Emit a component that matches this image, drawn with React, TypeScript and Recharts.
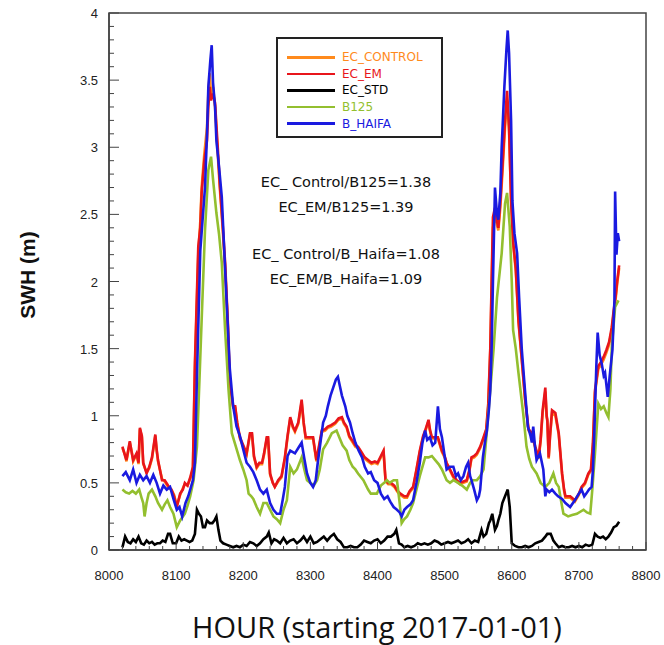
import React from "react";
import { LineChart, Line, XAxis, YAxis, ReferenceArea } from "recharts";

// ---- data: [hour, SWH (m)] ----
const bHaifa: [number, number][] = [
  [8020,0.55],[8025,0.58],[8031,0.52],[8036,0.6],[8041,0.5],[8046,0.56],[8051,0.52],[8056,0.55],[8061,0.5],[8066,0.56],
  [8071,0.5],[8076,0.42],[8081,0.48],[8086,0.45],[8091,0.47],[8096,0.38],[8101,0.3],[8105,0.32],[8109,0.25],[8114,0.35],
  [8118,0.4],[8121,0.45],[8125,0.52],[8128,0.65],[8131,1.29],[8136,2.23],[8140,2.5],[8143,2.7],[8146,3.1],[8148,3.45],
  [8151,3.65],[8153,3.76],[8155,3.48],[8158,3.3],[8160,3.05],[8164,2.85],[8168,2.63],[8172,2.2],[8175,1.88],[8180,1.35],
  [8185,1.07],[8190,0.92],[8195,0.85],[8200,0.75],[8205,0.65],[8210,0.62],[8215,0.58],[8220,0.52],[8225,0.45],[8230,0.42],
  [8235,0.45],[8240,0.35],[8245,0.3],[8250,0.27],[8255,0.27],[8259,0.38],[8262,0.47],[8266,0.7],[8270,0.74],[8277,0.72],
  [8282,0.76],[8287,0.8],[8291,0.68],[8295,0.57],[8300,0.5],[8304,0.47],[8308,0.52],[8311,0.65],[8315,0.8],[8319,0.95],
  [8323,1.0],[8326,1.07],[8330,1.15],[8334,1.21],[8338,1.27],[8341,1.29],[8344,1.22],[8347,1.15],[8352,1.07],[8355,1.0],
  [8359,0.95],[8363,0.87],[8367,0.8],[8372,0.74],[8377,0.69],[8381,0.62],[8386,0.57],[8390,0.58],[8395,0.52],[8400,0.5],
  [8405,0.42],[8410,0.38],[8415,0.4],[8419,0.36],[8424,0.32],[8429,0.3],[8433,0.28],[8436,0.25],[8440,0.3],[8444,0.32],
  [8449,0.34],[8453,0.37],[8458,0.5],[8463,0.65],[8467,0.8],[8471,0.89],[8474,0.82],[8478,0.84],[8482,0.78],[8486,0.8],
  [8490,1.07],[8493,0.9],[8496,0.84],[8500,0.7],[8503,0.6],[8508,0.62],[8513,0.62],[8517,0.55],[8520,0.57],[8524,0.52],
  [8528,0.55],[8532,0.62],[8535,0.65],[8538,0.55],[8540,0.52],[8544,0.45],[8548,0.37],[8551,0.4],[8553,0.45],[8557,0.69],
  [8560,0.8],[8563,0.89],[8566,1.05],[8568,1.19],[8570,1.5],[8572,2.0],[8575,2.7],[8578,2.5],[8580,2.46],[8583,2.66],
  [8585,3.0],[8589,3.45],[8592,3.72],[8594,3.87],[8596,3.7],[8599,3.2],[8601,2.6],[8604,2.36],[8608,2.21],[8611,1.88],
  [8615,1.49],[8620,1.17],[8624,0.92],[8628,0.85],[8630,0.8],[8632,0.92],[8635,0.75],[8637,0.67],[8642,0.72],[8647,0.6],
  [8650,0.4],[8652,0.45],[8656,0.43],[8660,0.45],[8665,0.42],[8669,0.4],[8675,0.38],[8680,0.35],[8687,0.32],[8694,0.37],
  [8700,0.42],[8704,0.45],[8708,0.4],[8711,0.42],[8715,0.45],[8719,0.47],[8721,0.6],[8723,0.87],[8726,1.37],[8728,1.62],
  [8731,1.45],[8734,1.39],[8737,1.3],[8739,1.32],[8743,1.14],[8746,1.3],[8750,1.49],[8753,1.86],[8754,2.67],[8756,2.2],
  [8758,2.36],[8760,2.3],
];

const ecEm: [number, number][] = [
  [8020,0.77],[8024,0.7],[8026,0.67],[8031,0.81],[8034,0.72],[8036,0.67],[8041,0.72],[8044,0.65],[8046,0.91],[8049,0.85],
  [8051,0.65],[8056,0.57],[8060,0.62],[8064,0.69],[8069,0.86],[8071,0.75],[8073,0.67],[8079,0.52],[8083,0.52],[8088,0.48],
  [8093,0.45],[8097,0.4],[8101,0.32],[8106,0.42],[8110,0.45],[8113,0.5],[8117,0.48],[8121,0.54],[8125,0.62],[8128,1.39],
  [8133,2.26],[8136,2.4],[8138,2.66],[8142,2.9],[8146,3.05],[8148,3.3],[8150,3.45],[8152,3.35],[8155,3.4],[8158,3.33],
  [8162,3.0],[8165,2.73],[8169,2.45],[8173,2.14],[8177,1.7],[8180,1.25],[8185,1.07],[8188,1.07],[8191,0.95],[8195,0.84],
  [8200,0.78],[8205,0.72],[8210,0.87],[8213,0.87],[8216,0.7],[8220,0.62],[8224,0.65],[8228,0.65],[8231,0.72],[8235,0.84],
  [8237,0.84],[8240,0.57],[8244,0.5],[8247,0.47],[8252,0.52],[8257,0.55],[8262,0.69],[8266,0.85],[8270,0.99],[8274,0.92],
  [8277,0.89],[8282,0.95],[8287,1.12],[8290,0.95],[8293,0.84],[8298,0.84],[8304,0.84],[8309,0.67],[8312,0.75],[8317,0.89],
  [8322,0.9],[8326,0.92],[8331,0.93],[8337,0.95],[8342,0.98],[8347,0.99],[8350,0.95],[8354,0.92],[8358,0.85],[8362,0.82],
  [8367,0.78],[8371,0.77],[8376,0.73],[8381,0.69],[8386,0.67],[8391,0.65],[8396,0.66],[8400,0.65],[8405,0.7],[8409,0.74],
  [8412,0.52],[8416,0.5],[8420,0.5],[8425,0.48],[8430,0.44],[8434,0.42],[8440,0.4],[8444,0.4],[8448,0.44],[8453,0.47],
  [8458,0.6],[8463,0.74],[8468,0.85],[8471,0.89],[8476,0.97],[8478,0.9],[8481,0.84],[8486,0.84],[8490,0.84],[8496,0.74],
  [8500,0.7],[8503,0.65],[8508,0.6],[8513,0.55],[8518,0.52],[8523,0.5],[8528,0.51],[8533,0.52],[8537,0.6],[8540,0.69],
  [8544,0.7],[8548,0.72],[8553,0.77],[8558,0.84],[8562,0.9],[8565,1.09],[8568,1.5],[8570,2.0],[8572,2.48],[8575,2.55],
  [8578,2.45],[8580,2.4],[8583,2.6],[8586,2.85],[8590,3.2],[8593,3.42],[8596,3.15],[8599,2.6],[8602,2.3],[8606,2.1],
  [8610,1.71],[8615,1.42],[8620,1.12],[8625,0.9],[8630,0.87],[8635,0.77],[8640,0.69],[8643,0.82],[8646,1.04],[8650,1.21],
  [8652,1.0],[8653,0.97],[8655,0.69],[8657,0.85],[8660,1.04],[8665,1.02],[8670,0.87],[8672,0.75],[8675,0.57],[8678,0.45],
  [8680,0.4],[8687,0.4],[8694,0.37],[8700,0.42],[8704,0.47],[8709,0.5],[8714,0.57],[8718,0.6],[8721,0.8],[8724,1.19],
  [8729,1.37],[8733,1.4],[8737,1.44],[8741,1.49],[8745,1.55],[8749,1.66],[8752,1.79],[8755,1.9],[8757,2.0],[8760,2.12],
];

const ecControl: [number, number][] = [
  [8020,0.76],[8024,0.71],[8026,0.66],[8031,0.8],[8034,0.73],[8036,0.66],[8041,0.71],[8044,0.64],[8046,0.9],[8049,0.84],
  [8051,0.64],[8056,0.58],[8060,0.61],[8064,0.68],[8069,0.85],[8071,0.74],[8073,0.66],[8079,0.53],[8083,0.51],[8088,0.47],
  [8093,0.45],[8097,0.41],[8101,0.33],[8106,0.41],[8110,0.46],[8113,0.49],[8117,0.48],[8121,0.53],[8125,0.6],[8128,1.35],
  [8133,2.2],[8136,2.45],[8138,2.7],[8142,2.95],[8146,3.15],[8148,3.4],[8150,3.55],[8152,3.4],[8155,3.45],[8158,3.3],
  [8162,2.95],[8165,2.7],[8169,2.42],[8173,2.1],[8177,1.68],[8180,1.24],[8185,1.06],[8188,1.06],[8191,0.94],[8195,0.83],
  [8200,0.77],[8205,0.71],[8210,0.86],[8213,0.86],[8216,0.69],[8220,0.61],[8224,0.64],[8228,0.64],[8231,0.71],[8235,0.83],
  [8237,0.83],[8240,0.56],[8244,0.5],[8247,0.47],[8252,0.51],[8257,0.54],[8262,0.68],[8266,0.84],[8270,0.98],[8274,0.91],
  [8277,0.88],[8282,0.94],[8287,1.1],[8290,0.94],[8293,0.83],[8298,0.83],[8304,0.83],[8309,0.66],[8312,0.74],[8317,0.88],
  [8322,0.89],[8326,0.91],[8331,0.92],[8337,0.94],[8342,0.97],[8347,0.98],[8350,0.94],[8354,0.91],[8358,0.84],[8362,0.81],
  [8367,0.77],[8371,0.76],[8376,0.72],[8381,0.68],[8386,0.66],[8391,0.64],[8396,0.65],[8400,0.64],[8405,0.69],[8409,0.73],
  [8412,0.51],[8416,0.49],[8420,0.49],[8425,0.47],[8430,0.43],[8434,0.41],[8440,0.39],[8444,0.39],[8448,0.43],[8453,0.46],
  [8458,0.59],[8463,0.73],[8468,0.84],[8471,0.88],[8476,0.96],[8478,0.89],[8481,0.83],[8486,0.83],[8490,0.83],[8496,0.73],
  [8500,0.69],[8503,0.64],[8508,0.59],[8513,0.54],[8518,0.51],[8523,0.49],[8528,0.5],[8533,0.51],[8537,0.59],[8540,0.68],
  [8544,0.69],[8548,0.71],[8553,0.76],[8558,0.83],[8562,0.89],[8565,1.07],[8568,1.48],[8570,1.95],[8572,2.4],[8575,2.5],
  [8578,2.42],[8580,2.38],[8583,2.55],[8586,2.8],[8590,3.15],[8593,3.35],[8596,3.12],[8599,2.62],[8602,2.28],[8606,2.08],
  [8610,1.7],[8615,1.41],[8620,1.11],[8625,0.89],[8630,0.86],[8635,0.76],[8640,0.68],[8643,0.81],[8646,1.02],[8650,1.18],
  [8652,0.99],[8653,0.96],[8655,0.68],[8657,0.84],[8660,1.02],[8665,1.0],[8670,0.86],[8672,0.74],[8675,0.56],[8678,0.44],
  [8680,0.39],[8687,0.39],[8694,0.36],[8700,0.41],[8704,0.46],[8709,0.49],[8714,0.56],[8718,0.59],[8721,0.79],[8724,1.17],
  [8729,1.35],[8733,1.38],[8737,1.42],[8741,1.47],[8745,1.53],[8749,1.64],[8752,1.77],[8755,1.88],[8757,1.98],[8760,2.1],
];

const b125: [number, number][] = [
  [8020,0.45],[8025,0.43],[8030,0.42],[8035,0.44],[8040,0.42],[8045,0.45],[8049,0.38],[8051,0.35],[8053,0.25],[8056,0.35],
  [8059,0.42],[8064,0.45],[8069,0.4],[8073,0.35],[8079,0.3],[8083,0.34],[8087,0.37],[8091,0.32],[8096,0.27],[8101,0.17],
  [8106,0.22],[8113,0.27],[8117,0.33],[8121,0.4],[8126,0.52],[8131,0.77],[8135,1.3],[8138,1.71],[8143,2.38],[8148,2.83],
  [8152,2.93],[8155,2.76],[8160,2.51],[8164,2.35],[8168,2.14],[8173,1.64],[8178,1.2],[8183,0.87],[8189,0.77],[8195,0.67],
  [8200,0.6],[8205,0.52],[8208,0.42],[8212,0.4],[8215,0.38],[8220,0.32],[8225,0.27],[8230,0.35],[8235,0.35],[8240,0.3],
  [8245,0.25],[8250,0.23],[8255,0.2],[8260,0.3],[8265,0.37],[8270,0.62],[8275,0.57],[8280,0.6],[8287,0.69],[8291,0.6],
  [8295,0.52],[8300,0.5],[8305,0.48],[8310,0.52],[8314,0.6],[8319,0.75],[8325,0.8],[8332,0.87],[8339,0.89],[8343,0.84],
  [8348,0.78],[8354,0.74],[8358,0.67],[8363,0.62],[8367,0.6],[8371,0.57],[8379,0.52],[8386,0.45],[8390,0.42],[8395,0.42],
  [8399,0.42],[8405,0.48],[8410,0.5],[8414,0.52],[8418,0.5],[8424,0.52],[8429,0.52],[8433,0.35],[8436,0.2],[8440,0.23],
  [8444,0.25],[8449,0.3],[8453,0.35],[8458,0.45],[8463,0.55],[8471,0.69],[8476,0.69],[8481,0.7],[8486,0.67],[8491,0.64],
  [8496,0.6],[8503,0.52],[8508,0.5],[8513,0.52],[8520,0.5],[8526,0.48],[8533,0.45],[8538,0.5],[8542,0.52],[8548,0.52],
  [8553,0.55],[8558,0.6],[8563,0.89],[8568,1.19],[8573,1.5],[8578,1.88],[8585,2.21],[8590,2.58],[8593,2.66],[8597,2.41],
  [8600,2.0],[8602,1.64],[8606,1.5],[8610,1.32],[8617,1.02],[8622,0.77],[8626,0.68],[8630,0.62],[8637,0.57],[8643,0.5],
  [8650,0.47],[8656,0.5],[8662,0.57],[8666,0.5],[8670,0.47],[8673,0.38],[8677,0.27],[8684,0.25],[8690,0.26],[8697,0.27],
  [8707,0.3],[8712,0.28],[8717,0.27],[8720,0.45],[8724,0.72],[8729,1.09],[8733,1.05],[8737,1.07],[8741,1.02],[8744,0.99],
  [8747,1.2],[8749,1.51],[8754,1.81],[8759,1.86],
];

const ecStd: [number, number][] = [
  [8020,0.02],[8024,0.1],[8028,0.06],[8032,0.05],[8036,0.08],[8040,0.06],[8044,0.1],[8048,0.05],[8052,0.04],[8056,0.07],
  [8060,0.05],[8064,0.06],[8068,0.04],[8072,0.05],[8076,0.05],[8080,0.07],[8084,0.06],[8088,0.12],[8091,0.12],[8095,0.05],
  [8100,0.05],[8104,0.1],[8108,0.07],[8112,0.08],[8116,0.07],[8120,0.06],[8124,0.07],[8128,0.12],[8131,0.3],[8134,0.27],
  [8137,0.25],[8140,0.17],[8143,0.17],[8146,0.22],[8150,0.2],[8154,0.2],[8157,0.22],[8160,0.25],[8163,0.15],[8166,0.07],
  [8170,0.05],[8175,0.04],[8180,0.03],[8185,0.02],[8190,0.03],[8195,0.02],[8200,0.04],[8205,0.03],[8210,0.06],[8215,0.05],
  [8220,0.03],[8225,0.05],[8230,0.08],[8235,0.1],[8238,0.13],[8242,0.05],[8246,0.08],[8250,0.07],[8255,0.05],[8260,0.09],
  [8265,0.05],[8270,0.07],[8275,0.08],[8280,0.05],[8285,0.07],[8290,0.1],[8295,0.06],[8300,0.1],[8305,0.05],[8310,0.06],
  [8315,0.08],[8320,0.1],[8325,0.07],[8330,0.1],[8335,0.12],[8340,0.08],[8345,0.06],[8350,0.02],[8355,0.02],[8360,0.03],
  [8365,0.02],[8370,0.02],[8375,0.04],[8380,0.07],[8385,0.06],[8390,0.05],[8395,0.07],[8400,0.08],[8405,0.05],[8410,0.07],
  [8415,0.1],[8420,0.1],[8425,0.12],[8428,0.15],[8432,0.05],[8436,0.04],[8440,0.02],[8445,0.03],[8450,0.02],[8455,0.03],
  [8460,0.05],[8465,0.04],[8470,0.05],[8475,0.04],[8480,0.05],[8485,0.07],[8490,0.06],[8495,0.04],[8500,0.05],[8505,0.06],
  [8510,0.05],[8515,0.06],[8520,0.07],[8525,0.05],[8530,0.06],[8535,0.08],[8540,0.05],[8545,0.07],[8550,0.06],[8555,0.15],
  [8558,0.1],[8562,0.12],[8566,0.2],[8568,0.22],[8571,0.27],[8575,0.15],[8578,0.18],[8580,0.22],[8583,0.27],[8586,0.35],
  [8590,0.4],[8594,0.45],[8597,0.32],[8600,0.05],[8605,0.03],[8610,0.02],[8615,0.02],[8620,0.03],[8625,0.02],[8630,0.03],
  [8635,0.05],[8640,0.06],[8645,0.07],[8650,0.1],[8653,0.12],[8658,0.12],[8662,0.07],[8665,0.05],[8670,0.02],[8675,0.03],
  [8680,0.02],[8685,0.02],[8690,0.03],[8695,0.02],[8700,0.03],[8705,0.02],[8710,0.04],[8715,0.03],[8720,0.04],[8724,0.12],
  [8728,0.1],[8732,0.09],[8736,0.1],[8740,0.08],[8744,0.1],[8748,0.13],[8752,0.17],[8756,0.18],[8760,0.21],
];

const xTicks: number[] = [];
for (let t = 8000; t <= 8800; t += 20) xTicks.push(t);
const yTicks: number[] = [];
for (let i = 0; i <= 40; i++) yTicks.push(i / 10);

const ratioLines = [
  "EC_ Control/B125=1.38",
  "EC_EM/B125=1.39",
  "EC_ Control/B_Haifa=1.08",
  "EC_EM/B_Haifa=1.09",
];

const seriesDefs = [
  { name: "EC_CONTROL", color: "#ff8a1c", data: ecControl },
  { name: "EC_EM", color: "#e8151b", data: ecEm },
  { name: "EC_STD", color: "#000000", data: ecStd },
  { name: "B125", color: "#93bf2f", data: b125 },
  { name: "B_HAIFA", color: "#1a1ae0", data: bHaifa },
];

const toRows = (arr: [number, number][]) => arr.map(([h, v]) => ({ h, v }));

const AXIS_COLOR = "#444";
const TICK_FONT = "'Liberation Sans', Arial, sans-serif";

const XTick = (props: any) => {
  const { x, y, payload } = props;
  const v = payload.value as number;
  const major = v % 100 === 0;
  return (
    <g>
      <line x1={x} y1={y} x2={x} y2={y - (major ? 8 : 4)} stroke={AXIS_COLOR} strokeWidth={1} />
      {major && (
        <text x={x} y={y + 30} textAnchor="middle" fontSize={13} fontFamily={TICK_FONT} fill="#222">
          {v}
        </text>
      )}
    </g>
  );
};

const YTick = (props: any) => {
  const { x, y, payload } = props;
  const v = payload.value as number;
  const major = Math.abs(v * 2 - Math.round(v * 2)) < 1e-6;
  return (
    <g>
      <line x1={x} y1={y} x2={x + (major ? 10 : 5)} y2={y} stroke={AXIS_COLOR} strokeWidth={1} />
      {major && (
        <text x={x - 11} y={y + 5} textAnchor="end" fontSize={13} fontFamily={TICK_FONT} fill="#222">
          {String(v)}
        </text>
      )}
    </g>
  );
};

const LegendBox = () => (
  <div
    style={{
      position: "absolute",
      left: 276,
      top: 37,
      width: 167,
      height: 101,
      border: "2px solid #222",
      background: "#fff",
      boxSizing: "border-box",
      paddingTop: 10,
    }}
  >
    {seriesDefs.map((s) => (
      <div key={s.name} style={{ display: "flex", alignItems: "center", height: 16.6 }}>
        <div style={{ marginLeft: 9, width: 48, height: 2.5, background: s.color }} />
        <span
          style={{
            marginLeft: 7,
            color: s.color,
            fontFamily: "'DejaVu Sans', sans-serif",
            fontSize: 12,
            lineHeight: "14px",
          }}
        >
          {s.name}
        </span>
      </div>
    ))}
  </div>
);

export default function App() {
  const W = 664;
  const H = 645;
  return (
    <div
      style={{
        position: "absolute",
        left: 0,
        top: 0,
        width: W,
        height: H,
        background: "#fff",
      }}
    >
      <LineChart width={W} height={H} margin={{ top: 13, right: 18, bottom: 65, left: 0 }}>
        <XAxis
          type="number"
          dataKey="h"
          domain={[8000, 8800]}
          ticks={xTicks}
          interval={0}
          allowDataOverflow
          tickSize={0}
          tickMargin={0}
          height={30}
          axisLine={{ stroke: AXIS_COLOR, strokeWidth: 1.5 }}
          tick={<XTick />}
        />
        <YAxis
          type="number"
          dataKey="v"
          domain={[0, 4]}
          ticks={yTicks}
          interval={0}
          allowDataOverflow
          tickSize={0}
          tickMargin={0}
          width={109}
          axisLine={{ stroke: AXIS_COLOR, strokeWidth: 1.5 }}
          tick={<YTick />}
        />
        <ReferenceArea x1={8000} x2={8800} y1={0} y2={4} fill="none" stroke={AXIS_COLOR} strokeWidth={1.5} />
        {seriesDefs.map((s) => (
          <Line
            key={s.name}
            data={toRows(s.data)}
            dataKey="v"
            name={s.name}
            type="linear"
            stroke={s.color}
            strokeWidth={2.6}
            dot={false}
            activeDot={false}
            isAnimationActive={false}
          />
        ))}
      </LineChart>
      <LegendBox />
      {ratioLines.map((t, i) => (
        <div
          key={t}
          style={{
            position: "absolute",
            left: 346,
            top: [182, 207, 254, 279][i],
            transform: "translate(-50%, -50%)",
            whiteSpace: "nowrap",
            fontFamily: "'DejaVu Sans', sans-serif",
            fontSize: 14.5,
            color: "#111",
          }}
        >
          {t}
        </div>
      ))}
      <div
        style={{
          position: "absolute",
          left: 28,
          top: 275,
          transform: "translate(-50%, -50%) rotate(-90deg)",
          whiteSpace: "nowrap",
          fontFamily: "'Liberation Sans', Arial, sans-serif",
          fontWeight: "bold",
          fontSize: 21,
          color: "#111",
        }}
      >
        SWH (m)
      </div>
      <div
        style={{
          position: "absolute",
          left: 377,
          top: 626,
          transform: "translate(-50%, -50%)",
          whiteSpace: "nowrap",
          fontFamily: "'Open Sans', sans-serif",
          fontWeight: 500,
          fontSize: 29,
          color: "#111",
        }}
      >
        HOUR (starting 2017-01-01)
      </div>
    </div>
  );
}
